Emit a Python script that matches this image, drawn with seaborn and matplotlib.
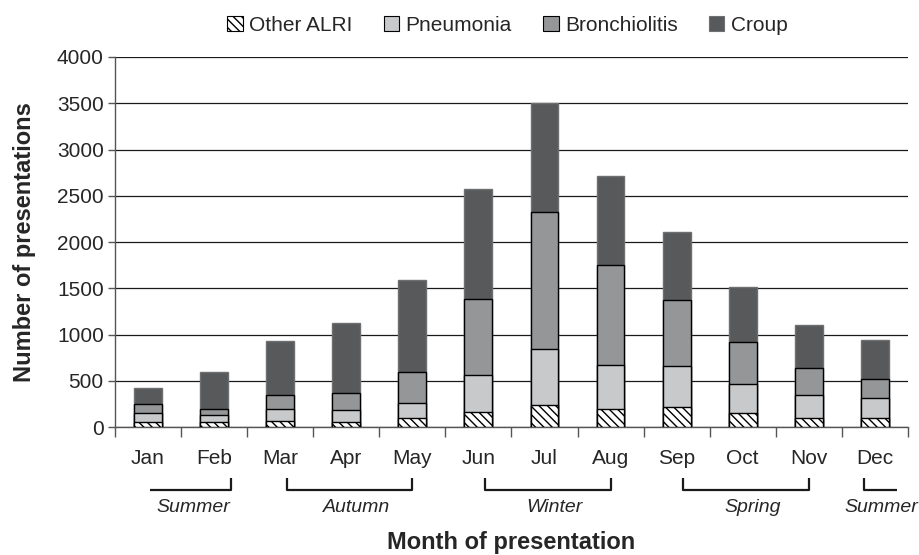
import matplotlib
matplotlib.use("Agg")
import matplotlib.pyplot as plt
import matplotlib.transforms as mtrans
from matplotlib.patches import Patch
import numpy as np
import pandas as pd
import seaborn as sns

# values (presentations per month)
months = ["Jan", "Feb", "Mar", "Apr", "May", "Jun", "Jul", "Aug", "Sep", "Oct", "Nov", "Dec"]
other_alri = [50, 50, 65, 55, 100, 165, 235, 200, 215, 150, 100, 100]
pneumonia = [100, 80, 135, 130, 165, 395, 605, 475, 445, 315, 245, 215]
bronchiolitis = [95, 60, 145, 185, 335, 825, 1480, 1075, 715, 450, 290, 205]
croup = [175, 410, 585, 750, 985, 1185, 1180, 965, 735, 600, 470, 420]

# seasons: label, first month, last month (index)
seasons = [("Summer", 0, 1), ("Autumn", 2, 4), ("Winter", 5, 7), ("Spring", 8, 10), ("Summer", 11, 11)]

COLORS = {"Other ALRI": "white", "Pneumonia": "#c8c9ca",
          "Bronchiolitis": "#959698", "Croup": "#58595b"}

sns.set_style("white")
plt.rcParams["font.family"] = ["Liberation Sans", "DejaVu Sans"]

df = pd.DataFrame({"month": months, "Other ALRI": other_alri, "Pneumonia": pneumonia,
                   "Bronchiolitis": bronchiolitis, "Croup": croup})
order = ["Other ALRI", "Pneumonia", "Bronchiolitis", "Croup"]
cum = df[order].cumsum(axis=1)

fig = plt.figure(figsize=(9.19, 5.55), dpi=100)
ax = fig.add_axes([0.125, 0.2306, 0.863, 0.6667])

# stacked bars: draw cumulative totals from the top layer down
for name in reversed(order):
    edge = "#6e6f71" if name == "Croup" else "black"
    sns.barplot(x=df["month"], y=cum[name], order=months, color=COLORS[name],
                width=0.42, edgecolor=edge, linewidth=1.0, saturation=1,
                hatch="\\\\\\\\" if name == "Other ALRI" else None, ax=ax, zorder=3)

ax.set_ylim(0, 4000)
ax.set_xlim(-0.5, 11.5)
ax.set_yticks(np.arange(0, 4001, 500))
ax.yaxis.grid(True, color="#1a1a1a", linewidth=0.9)
ax.set_axisbelow(True)
for s in ["top", "right"]:
    ax.spines[s].set_visible(False)
for s in ["left", "bottom"]:
    ax.spines[s].set_color("#555555")
    ax.spines[s].set_linewidth(1.0)

ax.set_xlabel("")
ax.set_ylabel("")
ax.tick_params(axis="y", direction="out", length=5, width=1, color="#555555",
               labelsize=15, pad=3, left=True)
ax.tick_params(axis="x", which="major", length=0, labelsize=15, pad=16)
ax.set_xticks(np.arange(-0.5, 12, 1), minor=True)
ax.tick_params(axis="x", which="minor", direction="out", length=7, width=1,
               color="#555555", bottom=True)

# season brackets under the month labels
trans = mtrans.blended_transform_factory(ax.transData, ax.transAxes)
y_line, y_tick, y_txt = -0.170, -0.138, -0.194
for i, (label, m0, m1) in enumerate(seasons):
    if i == 0:
        x0, x1 = m0 + 0.03, m1 + 0.25
        xs, ys = [x0, x1, x1], [y_line, y_line, y_tick]
        xt = x1 - 0.57
    elif i == len(seasons) - 1:
        x0, x1 = m0 - 0.17, m1 + 0.33
        xs, ys = [x0, x0, x1], [y_tick, y_line, y_line]
        xt = x0 + 0.27
    else:
        x0, x1 = m0 + 0.1, m1 + 0.0
        xs, ys = [x0, x0, x1, x1], [y_tick, y_line, y_line, y_tick]
        xt = (x0 + x1) / 2 + 0.1
    ax.plot(xs, ys, color="#1a1a1a", linewidth=1.6, transform=trans, clip_on=False,
            solid_capstyle="butt")
    ax.text(xt, y_txt, label, transform=trans, ha="center", va="top",
            fontsize=14, fontstyle="italic")

fig.text(0.556, 0.022, "Month of presentation", ha="center", va="center",
         fontsize=17, fontweight="bold")
fig.text(0.027, 0.564, "Number of presentations", ha="center", va="center",
         fontsize=17, fontweight="bold", rotation=90)

handles = [Patch(facecolor=COLORS["Other ALRI"], edgecolor="black", hatch="\\\\\\\\", linewidth=0.8),
           Patch(facecolor=COLORS["Pneumonia"], edgecolor="black", linewidth=0.8),
           Patch(facecolor=COLORS["Bronchiolitis"], edgecolor="black", linewidth=0.8),
           Patch(facecolor=COLORS["Croup"], edgecolor="#6e6f71", linewidth=0.8)]
fig.legend(handles, order, loc="upper center", bbox_to_anchor=(0.552, 1.005), ncol=4,
           frameon=False, fontsize=15, handlelength=0.75, handleheight=0.75,
           handletextpad=0.3, columnspacing=1.5)

fig.savefig("out.png", dpi=100)
